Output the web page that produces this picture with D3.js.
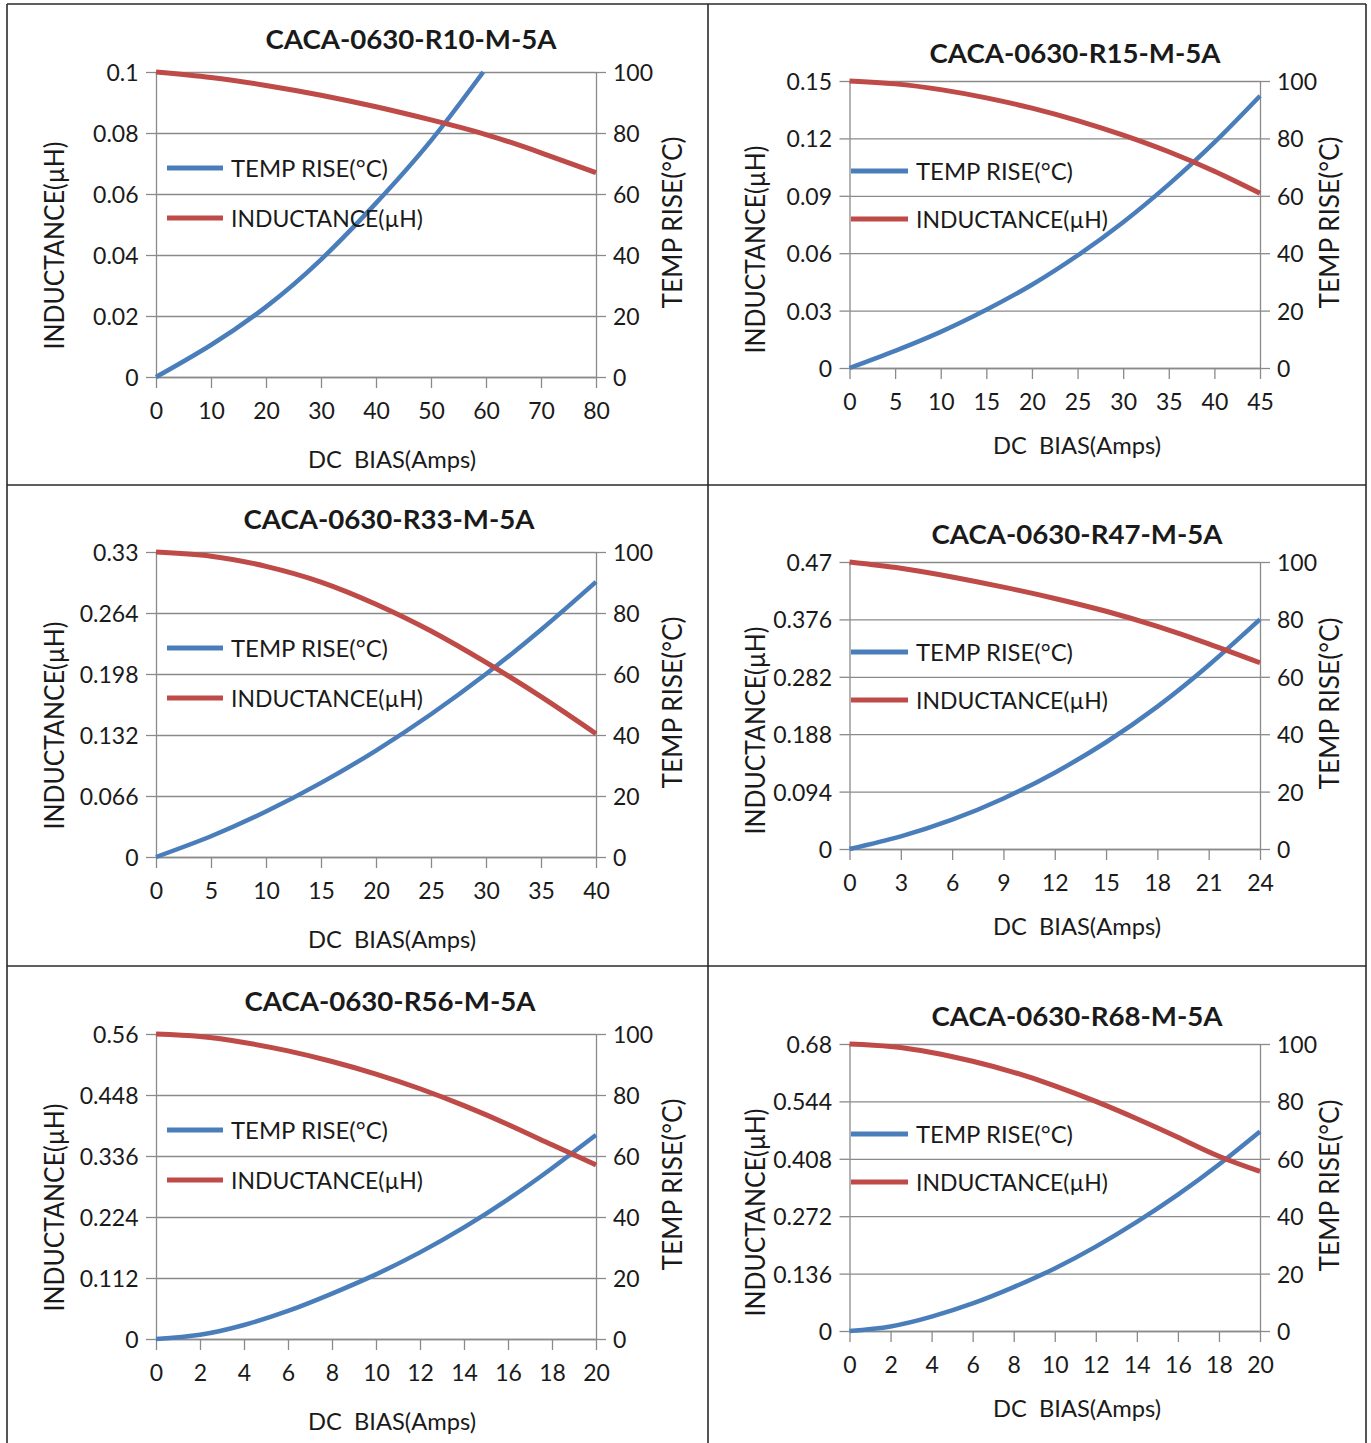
<!DOCTYPE html>
<html>
<head>
<meta charset="utf-8">
<script src="https://cdn.jsdelivr.net/npm/d3@7"></script>
<style>
  body { margin: 0; background: #fff; }
  svg { display: block; }
  text { font-family: Lato, "Open Sans", sans-serif; fill: #1a1a1a; }
</style>
</head>
<body>
<div id="chart"></div>
<script>
// ---- data ----
const legendNames = ["TEMP RISE(°C)", "INDUCTANCE(µH)"];
const xTitle = "DC  BIAS(Amps)";
const leftTitle = "INDUCTANCE(µH)";
const rightTitle = "TEMP RISE(°C)";
const tempTicks = [0, 20, 40, 60, 80, 100];

// R10
const r10Bias = [0, 10, 20, 30, 40, 50, 60, 70, 80];
const r10Ind = [0.1, 0.0982, 0.0956, 0.0924, 0.0886, 0.0843, 0.0795, 0.0735, 0.067];
const r10TempBias = [0, 10, 20, 30, 40, 50, 59.5];
const r10Temp = [0, 10.5, 23, 38.5, 57, 77.5, 100];
const r10IndTicks = [0, 0.02, 0.04, 0.06, 0.08, 0.1];

// R15
const r15Bias = [0, 5, 10, 15, 20, 25, 30, 35, 40, 45];
const r15Ind = [0.15, 0.1485, 0.1455, 0.1412, 0.1358, 0.1293, 0.1217, 0.113, 0.1028, 0.0913];
const r15Temp = [0, 6, 12.6, 20.3, 29, 39.2, 50.8, 64, 78.6, 94.8];
const r15IndTicks = [0, 0.03, 0.06, 0.09, 0.12, 0.15];

// R33
const r33Bias = [0, 5, 10, 15, 20, 25, 30, 35, 40];
const r33Ind = [0.33, 0.3255, 0.3145, 0.2975, 0.2735, 0.2445, 0.2105, 0.1735, 0.1334];
const r33Temp = [0, 6.8, 14.9, 24.3, 34.9, 46.8, 60, 74.5, 90.2];
const r33IndTicks = [0, 0.066, 0.132, 0.198, 0.264, 0.33];

// R47
const r47Bias = [0, 3, 6, 9, 12, 15, 18, 21, 24];
const r47Ind = [0.47, 0.4598, 0.4455, 0.4288, 0.4103, 0.3893, 0.3645, 0.336, 0.305];
const r47Temp = [0, 4.4, 10.2, 17.6, 26.6, 37.2, 49.6, 64, 80];
const r47IndTicks = [0, 0.094, 0.188, 0.282, 0.376, 0.47];

// R56
const r56Bias = [0, 2, 4, 6, 8, 10, 12, 14, 16, 18, 20];
const r56Ind = [0.56, 0.5555, 0.5445, 0.529, 0.5095, 0.4865, 0.4595, 0.4285, 0.394, 0.3565, 0.3195];
const r56Temp = [0, 1.4, 4.6, 9.2, 14.9, 21.2, 28.4, 36.6, 45.8, 56, 66.9];
const r56IndTicks = [0, 0.112, 0.224, 0.336, 0.448, 0.56];

// R68
const r68Bias = [0, 2, 4, 6, 8, 10, 12, 14, 16, 18, 20];
const r68Ind = [0.68, 0.674, 0.66, 0.639, 0.613, 0.581, 0.544, 0.503, 0.459, 0.414, 0.378];
const r68Temp = [0, 1.6, 5, 9.6, 15.3, 21.8, 29.4, 38, 47.5, 58, 69.5];
const r68IndTicks = [0, 0.136, 0.272, 0.408, 0.544, 0.68];

const panels = [
  { name: "CACA-0630-R10-M-5A", bias: r10Bias, ind: r10Ind, tempBias: r10TempBias, temp: r10Temp, indTicks: r10IndTicks },
  { name: "CACA-0630-R15-M-5A", bias: r15Bias, ind: r15Ind, tempBias: r15Bias, temp: r15Temp, indTicks: r15IndTicks },
  { name: "CACA-0630-R33-M-5A", bias: r33Bias, ind: r33Ind, tempBias: r33Bias, temp: r33Temp, indTicks: r33IndTicks },
  { name: "CACA-0630-R47-M-5A", bias: r47Bias, ind: r47Ind, tempBias: r47Bias, temp: r47Temp, indTicks: r47IndTicks },
  { name: "CACA-0630-R56-M-5A", bias: r56Bias, ind: r56Ind, tempBias: r56Bias, temp: r56Temp, indTicks: r56IndTicks },
  { name: "CACA-0630-R68-M-5A", bias: r68Bias, ind: r68Ind, tempBias: r68Bias, temp: r68Temp, indTicks: r68IndTicks }
];

// ---- layout ----
const width = 1371, height = 1443;
const blue = "#4a7ebb", red = "#be4b48", gridColor = "#8a8a8a";
const panelTop = [72, 81, 552, 562, 1034, 1044];
const titleX = [411, 1075, 389, 1077, 390, 1077];
const cols = [
  { x0: 156, x1: 596, h: 305, titleDy: -23, leg1: 96, leg2: 146, legX0: 167, legX1: 223, legText: 231,
    leftTitleX: 64, rightTitleDx: 86, leftTitleDy: 21, xTitleX: 392, xTitleDy: 91 },
  { x0: 849.5, x1: 1260, h: 287, titleDy: -18, leg1: 90, leg2: 138, legX0: 851, legX1: 908, legText: 916,
    leftTitleX: 765, rightTitleDx: 79, leftTitleDy: 25, xTitleX: 1077, xTitleDy: 86 }
];

const svg = d3.select("#chart").append("svg")
  .attr("width", width)
  .attr("height", height);

// table frame
const frame = svg.append("g").attr("stroke", "#2a2a2a").attr("stroke-width", 1.6);
[7, 708, 1366].forEach(x => frame.append("line").attr("x1", x).attr("x2", x).attr("y1", 4).attr("y2", height));
[4, 485, 966].forEach(y => frame.append("line").attr("x1", 7).attr("x2", 1366).attr("y1", y).attr("y2", y));

const fmt = d => String(+d.toFixed(4));

panels.forEach((p, i) => {
  const c = cols[i % 2];
  const top = panelTop[i];
  const bottom = top + c.h;
  const biasMax = p.bias[p.bias.length - 1];

  const x = d3.scaleLinear().domain([0, biasMax]).range([c.x0, c.x1]);
  const yL = d3.scaleLinear().domain([0, p.indTicks[p.indTicks.length - 1]]).range([bottom, top]);
  const yR = d3.scaleLinear().domain([0, 100]).range([bottom, top]);

  const g = svg.append("g");

  // gridlines
  g.append("g")
    .attr("transform", `translate(${c.x0},0)`)
    .call(d3.axisLeft(yL).tickValues(p.indTicks).tickSize(-(c.x1 - c.x0)).tickFormat(""))
    .call(a => a.select(".domain").remove())
    .call(a => a.selectAll("line").attr("stroke", gridColor).attr("stroke-width", 1.3));

  // left axis
  g.append("g")
    .attr("transform", `translate(${c.x0},0)`)
    .call(d3.axisLeft(yL).tickValues(p.indTicks).tickSize(10).tickSizeOuter(0).tickPadding(7.5).tickFormat(fmt))
    .call(a => a.selectAll("path,line").attr("stroke", gridColor).attr("stroke-width", 1.3))
    .call(a => a.selectAll("text").attr("dy", 8.5).style("font-size", "23px").attr("fill", "#1a1a1a"));

  // right axis
  g.append("g")
    .attr("transform", `translate(${c.x1},0)`)
    .call(d3.axisRight(yR).tickValues(tempTicks).tickSize(10).tickSizeOuter(0).tickPadding(7).tickFormat(fmt))
    .call(a => a.selectAll("path,line").attr("stroke", gridColor).attr("stroke-width", 1.3))
    .call(a => a.selectAll("text").attr("dy", 8.5).style("font-size", "23px").attr("fill", "#1a1a1a"));

  // bottom axis
  g.append("g")
    .attr("transform", `translate(0,${bottom})`)
    .call(d3.axisBottom(x).tickValues(p.bias).tickSize(11).tickSizeOuter(0).tickPadding(15).tickFormat(fmt))
    .call(a => a.selectAll("path,line").attr("stroke", gridColor).attr("stroke-width", 1.3))
    .call(a => a.selectAll("text").style("font-size", "23px").attr("fill", "#1a1a1a"));

  // curves
  const indLine = d3.line()
    .x((d, k) => x(p.bias[k]))
    .y(d => yL(d))
    .curve(d3.curveNatural);
  const tempLine = d3.line()
    .x((d, k) => x(p.tempBias[k]))
    .y(d => yR(d))
    .curve(d3.curveNatural);

  g.append("path")
    .datum(p.temp)
    .attr("d", tempLine)
    .attr("fill", "none")
    .attr("stroke", blue)
    .attr("stroke-width", 4.5);

  g.append("path")
    .datum(p.ind)
    .attr("d", indLine)
    .attr("fill", "none")
    .attr("stroke", red)
    .attr("stroke-width", 5);

  // legend
  const legend = g.append("g");
  [[top + c.leg1, blue, legendNames[0], 157], [top + c.leg2, red, legendNames[1], 192]].forEach(([ly, col, label, len]) => {
    legend.append("line")
      .attr("x1", c.legX0).attr("x2", c.legX1)
      .attr("y1", ly).attr("y2", ly)
      .attr("stroke", col).attr("stroke-width", 5);
    legend.append("text")
      .attr("x", c.legText).attr("y", ly + 9)
      .attr("textLength", len).attr("lengthAdjust", "spacingAndGlyphs")
      .style("font-size", "23px")
      .text(label);
  });

  // title
  g.append("text")
    .attr("x", titleX[i]).attr("y", top + c.titleDy)
    .attr("text-anchor", "middle")
    .attr("textLength", 291).attr("lengthAdjust", "spacingAndGlyphs")
    .style("font-size", "27px").style("font-weight", 700)
    .text(p.name);

  // x-axis title
  g.append("text")
    .attr("x", c.xTitleX).attr("y", bottom + c.xTitleDy)
    .attr("text-anchor", "middle")
    .attr("textLength", 168).attr("lengthAdjust", "spacingAndGlyphs")
    .style("font-size", "23px").style("white-space", "pre")
    .text(xTitle);

  // left y title
  const midY = (top + bottom) / 2;
  g.append("text")
    .attr("transform", `translate(${c.leftTitleX},${midY + c.leftTitleDy}) rotate(-90)`)
    .attr("text-anchor", "middle")
    .attr("textLength", 208).attr("lengthAdjust", "spacingAndGlyphs")
    .style("font-size", "26px")
    .text(leftTitle);

  // right y title
  g.append("text")
    .attr("transform", `translate(${c.x1 + c.rightTitleDx},${midY - 2}) rotate(-90)`)
    .attr("text-anchor", "middle")
    .attr("textLength", 172).attr("lengthAdjust", "spacingAndGlyphs")
    .style("font-size", "26px")
    .text(rightTitle);
});
</script>
</body>
</html>
